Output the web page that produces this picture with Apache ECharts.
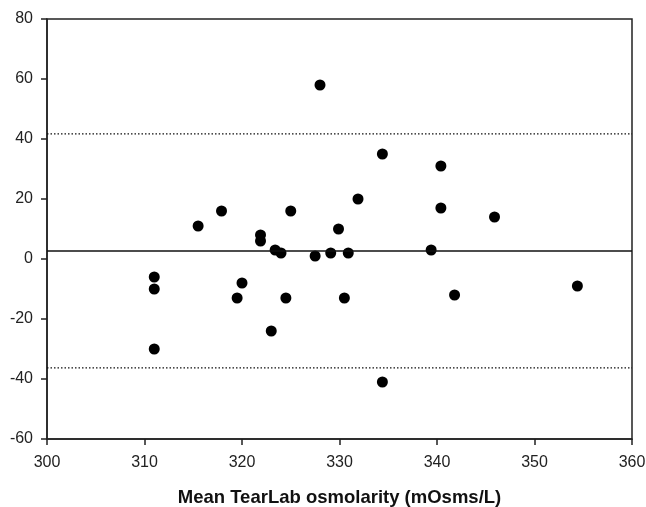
<!DOCTYPE html>
<html>
<head>
<meta charset="utf-8">
<script src="https://cdn.jsdelivr.net/npm/echarts@6/dist/echarts.min.js"></script>
<style>
  html, body { margin: 0; padding: 0; background: #fff; }
  #main { width: 646px; height: 507px; }
</style>
</head>
<body>
<div id="main"></div>
<script>
// mean osmolarity (x) and difference (y)
var meanX = [315.5, 317.9, 321.9, 321.9, 323.4, 324.0, 325.0, 328.0, 327.5, 329.1,
             334.4, 340.4, 331.9, 340.4, 345.9, 329.9, 339.4, 330.9,
             311.0, 311.0, 311.0, 319.5, 320.0, 323.0, 324.5, 330.5, 341.8, 354.4, 334.4];
var diffY = [11, 16, 8, 6, 3, 2, 16, 58, 1, 2,
             35, 31, 20, 17, 14, 10, 3, 2,
             -6, -10, -30, -13, -8, -24, -13, -13, -12, -9, -41];

var meanDiff = 2.7;
var upperLoA = 41.7;
var lowerLoA = -36.3;

var xRange = [300, 360];

var points = [];
for (var i = 0; i < meanX.length; i++) {
  points.push([meanX[i], diffY[i]]);
}

function hline(v) {
  return [[xRange[0], v], [xRange[1], v]];
}

var myChart = echarts.init(document.getElementById('main'));

myChart.setOption({
  animation: false,
  grid: {
    left: 47,
    right: 14,
    top: 19,
    bottom: 68,
    outerBoundsMode: 'none',
    containLabel: false,
    show: true,
    borderColor: '#222',
    borderWidth: 1.5
  },
  xAxis: {
    type: 'value',
    min: 300,
    max: 360,
    interval: 10,
    name: 'Mean TearLab osmolarity (mOsms/L)',
    nameLocation: 'middle',
    nameGap: 49,
    nameTextStyle: {
      fontFamily: 'Liberation Sans',
      fontWeight: 'bold',
      fontSize: 18.5,
      color: '#111'
    },
    axisLine: { onZero: false, lineStyle: { color: '#222', width: 1.5 } },
    axisTick: { inside: false, length: 6, lineStyle: { color: '#222', width: 1.5 } },
    axisLabel: { margin: 16, fontFamily: 'Liberation Sans', fontSize: 16, color: '#222' },
    splitLine: { show: false }
  },
  yAxis: {
    type: 'value',
    min: -60,
    max: 80,
    interval: 20,
    axisLine: { show: true, onZero: false, lineStyle: { color: '#222', width: 1.5 } },
    axisTick: { show: true, inside: false, length: 6, lineStyle: { color: '#222', width: 1.5 } },
    axisLabel: { margin: 14, fontFamily: 'Liberation Sans', fontSize: 16, color: '#222' },
    splitLine: { show: false }
  },
  series: [
    {
      type: 'line',
      data: hline(meanDiff),
      symbol: 'none',
      lineStyle: { color: '#111', width: 1.5 },
      silent: true
    },
    {
      type: 'line',
      data: hline(upperLoA),
      symbol: 'none',
      lineStyle: { color: '#111', width: 1.2, type: [1.5, 2] },
      silent: true
    },
    {
      type: 'line',
      data: hline(lowerLoA),
      symbol: 'none',
      lineStyle: { color: '#111', width: 1.2, type: [1.5, 2] },
      silent: true
    },
    {
      type: 'scatter',
      data: points,
      symbol: 'circle',
      symbolSize: 11,
      itemStyle: { color: '#000', opacity: 1 }
    }
  ]
});
</script>
</body>
</html>
